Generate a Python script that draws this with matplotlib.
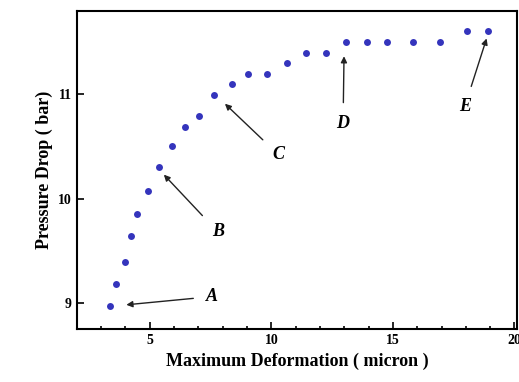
import matplotlib.pyplot as plt
from matplotlib.ticker import MultipleLocator

# Data
deformation = [3.36, 3.63, 3.98, 4.22, 4.48, 4.93, 5.39, 5.92, 6.44, 7.03, 7.65,
               8.37, 9.05, 9.82, 10.63, 11.42, 12.25, 13.07, 13.92, 14.74,
               15.84, 16.94, 18.04, 18.93]
pressure = [8.97, 9.18, 9.39, 9.64, 9.85, 10.07, 10.30, 10.51, 10.69, 10.79, 10.99,
            11.10, 11.20, 11.20, 11.30, 11.40, 11.40, 11.50, 11.50, 11.50,
            11.50, 11.50, 11.61, 11.61]

# Point labels: (label, head x, head y, text x, text y)
labels = ["A", "B", "C", "D", "E"]
head_x = [3.98, 5.54, 8.05, 12.99, 18.87]
head_y = [8.98, 10.24, 10.92, 11.38, 11.55]
text_x = [7.55, 7.8, 10.3, 12.95, 17.95]
text_y = [9.06, 9.68, 10.42, 10.72, 10.88]

plt.rcParams['font.family'] = ['Liberation Serif', 'DejaVu Serif']

fig = plt.figure(figsize=(5.19, 3.82), dpi=100)
ax = fig.add_axes([0.148, 0.139, 0.848, 0.832])

ax.plot(deformation, pressure, 'o', color='#3434bc', markersize=5, markeredgewidth=0)

for lab, hx, hy, tx, ty in zip(labels, head_x, head_y, text_x, text_y):
    ax.annotate(lab, xy=(hx, hy), xytext=(tx, ty),
                fontsize=13, fontweight='bold', fontstyle='italic',
                ha='center', va='center',
                arrowprops=dict(arrowstyle='-|>', color='#222222', lw=1.0,
                                shrinkA=7, shrinkB=1, mutation_scale=9))

ax.set_xlim(2, 20.1)
ax.set_ylim(8.75, 11.8)
ax.xaxis.set_major_locator(MultipleLocator(5))
ax.xaxis.set_minor_locator(MultipleLocator(1))
ax.yaxis.set_major_locator(MultipleLocator(1))
ax.tick_params(direction='in', which='both', labelsize=10, width=1.2)
ax.tick_params(which='major', length=5)
ax.tick_params(which='minor', length=2.5)
for t in ax.get_xticklabels() + ax.get_yticklabels():
    t.set_fontweight('bold')
for s in ax.spines.values():
    s.set_linewidth(1.5)

ax.set_xlabel("Maximum Deformation ( micron )", fontsize=13, fontweight='bold')
ax.set_ylabel("Pressure Drop ( bar)", fontsize=13, fontweight='bold')

fig.savefig("out.png", dpi=100)
